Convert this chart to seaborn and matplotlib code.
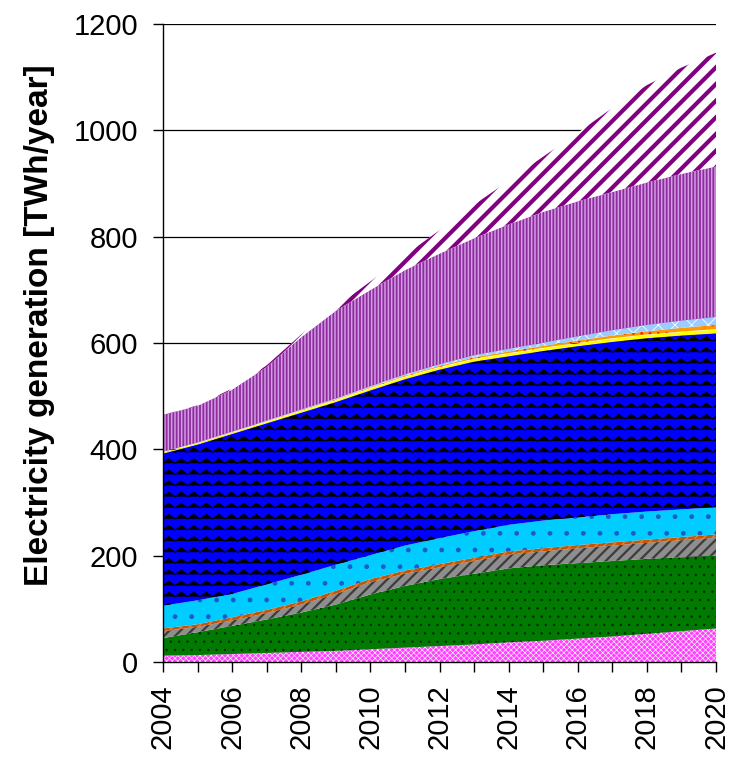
import warnings
import numpy as np
import pandas as pd
import matplotlib
matplotlib.use("Agg")
import matplotlib.pyplot as plt
import matplotlib.hatch as mhatch
from matplotlib.path import Path
from matplotlib.ticker import MultipleLocator
import seaborn as sns

warnings.filterwarnings("ignore")

# ---------------- data (TWh/year) ----------------
years = list(range(2004, 2021))
pink_layer = [12, 13, 15, 17, 19, 21, 24, 27, 30, 33, 37, 40, 44, 48, 53, 58, 63]
green_layer = [33, 43, 53, 63, 74, 87, 103, 116, 126, 133, 139, 142, 142, 142, 141, 139, 137]
grey_layer = [13, 10, 10, 12, 15, 20, 23, 23, 22, 24, 26, 26, 28, 29, 30, 32, 34]
brown_layer = [5, 5, 6, 6, 6, 6, 6, 6, 6, 6, 6, 6, 6, 6, 6, 6, 6]
cyan_layer = [43, 45, 44, 48, 50, 49, 45, 47, 49, 50, 50, 52, 52, 53, 53, 52, 51]
blue_layer = [287, 294, 302, 304, 306, 307, 311, 314, 318, 320, 318, 320, 323, 325, 327, 328, 328]
yellow_layer = [2, 2, 2, 2.5, 3, 3, 3.5, 4, 4, 4.5, 5, 5, 5.5, 6, 6, 6.5, 7]
orange_layer = [0.3, 0.3, 0.5, 0.5, 0.8, 1, 1.2, 1.5, 2, 2.5, 3, 3.5, 4, 5, 6, 7, 8]
lightblue_layer = [0.5, 0.5, 0.8, 1, 1.2, 1.5, 2, 2.5, 3, 4, 5, 6, 8, 10, 12, 13.5, 15]
purple_layer = [69, 69, 79, 101, 136, 165, 181, 196, 208, 220, 234, 246, 254, 260, 268, 276, 283]
stripe_layer = [0, 1, 2, 3, 5, 7, 16, 28, 44, 63, 82, 104, 129, 158, 183, 200, 214]

layer_names = ["pink", "green", "grey", "brown", "cyan", "blue",
               "yellow", "orange", "lightblue", "purple", "stripe"]
df = pd.DataFrame({"year": years, "pink": pink_layer, "green": green_layer,
                   "grey": grey_layer, "brown": brown_layer, "cyan": cyan_layer,
                   "blue": blue_layer, "yellow": yellow_layer, "orange": orange_layer,
                   "lightblue": lightblue_layer, "purple": purple_layer,
                   "stripe": stripe_layer})

# ---------------- styles ----------------
styles = {
    "pink":      dict(face="#FF40FF", hcol="#FFFFFF", hatch="xxxxxx", hlw=0.45),
    "green":     dict(face="#007A00", hcol="#002800", hatch="..", hlw=0.5),
    "grey":      dict(face="#8E8E8E", hcol="#3C3C3C", hatch="///", hlw=1.6),
    "brown":     dict(face="#C0560E", hcol="#E8822A", hatch="////", hlw=1.0),
    "cyan":      dict(face="#00CCFF", hcol="#1A5CC8", hatch=".", hlw=1.0),
    "blue":      dict(face="#0000FF", hcol="#000000", hatch="-", hlw=0.8),
    "yellow":    dict(face="#FFFF00", hcol="#FFFF00", hatch=None, hlw=0.5),
    "orange":    dict(face="#FF9900", hcol="#FF2000", hatch="..", hlw=0.8),
    "lightblue": dict(face="#99CCFF", hcol="#FFFFFF", hatch="xx", hlw=0.6),
    "purple":    dict(face="#8E2C9E", hcol="#D49CE4", hatch="|||||", hlw=1.1),
    "stripe":    dict(face="#FFFFFF", hcol="#800080", hatch="//", hlw=3.0),
}


# custom zig-zag hatch used in place of the horizontal-line hatch
class ZigZagHatch(mhatch.HatchPatternBase):
    def __init__(self, hatch, density):
        self.num_rows = int(hatch.count('-') * density * 1.5)
        self.periods = 8
        self.num_vertices = self.num_rows * (2 * self.periods + 1)

    def set_vertices_and_codes(self, vertices, codes):
        n = 2 * self.periods + 1
        xs = np.linspace(0.0, 1.0, n)
        amp = 0.022 * np.where(np.arange(n) % 2 == 0, -1, 1)
        step = 1.0 / max(self.num_rows, 1)
        for r in range(self.num_rows):
            yc = (r + 0.5) * step
            vertices[r * n:(r + 1) * n, 0] = xs
            vertices[r * n:(r + 1) * n, 1] = yc + amp
            codes[r * n] = Path.MOVETO
            codes[r * n + 1:(r + 1) * n] = Path.LINETO


mhatch._hatch_types = [ZigZagHatch if t is mhatch.HorizontalHatch else t
                       for t in mhatch._hatch_types]

# ---------------- figure ----------------
sns.set_theme(style="ticks")
plt.rcParams["font.family"] = ["Liberation Sans", "DejaVu Sans"]

fig = plt.figure(figsize=(7.42, 7.60), dpi=100)
ax = fig.add_axes([163 / 742, 1 - 662 / 760, (716 - 163) / 742, (662 - 24) / 760])

polys = ax.stackplot(df["year"], *[df[n] for n in layer_names],
                     colors=[styles[n]["face"] for n in layer_names], zorder=2)
for poly, name in zip(polys, layer_names):
    st = styles[name]
    poly.set_edgecolor(st["hcol"])
    poly.set_linewidth(0)
    if st["hatch"]:
        poly.set_hatch(st["hatch"])
        if hasattr(poly, "set_hatch_linewidth"):
            poly.set_hatch_linewidth(st["hlw"])

ax.set_xlim(2004, 2020)
ax.set_ylim(0, 1200)
ax.xaxis.set_major_locator(MultipleLocator(2))
ax.xaxis.set_minor_locator(MultipleLocator(1))
ax.yaxis.set_major_locator(MultipleLocator(200))
ax.tick_params(axis="x", which="major", labelsize=21, labelrotation=90,
               length=7, width=1, color="black", pad=9, labelcolor="black")
ax.tick_params(axis="x", which="minor", length=7, width=1, color="black")
ax.tick_params(axis="y", labelsize=21, length=7, width=1, color="black", pad=11,
               labelcolor="black")
ax.grid(axis="y", color="black", linewidth=0.9, zorder=0)
ax.set_axisbelow(True)
for s in ["top", "right"]:
    ax.spines[s].set_visible(False)
for s in ["left", "bottom"]:
    ax.spines[s].set_color("black")
    ax.spines[s].set_linewidth(1.0)
    ax.spines[s].set_zorder(3)

ax.set_ylabel("Electricity generation [TWh/year]", fontsize=24,
              fontweight="bold", color="black")
ax.yaxis.set_label_coords(-0.195, 0.528)
ax.set_xlabel("")

fig.savefig("out.png", dpi=100)
